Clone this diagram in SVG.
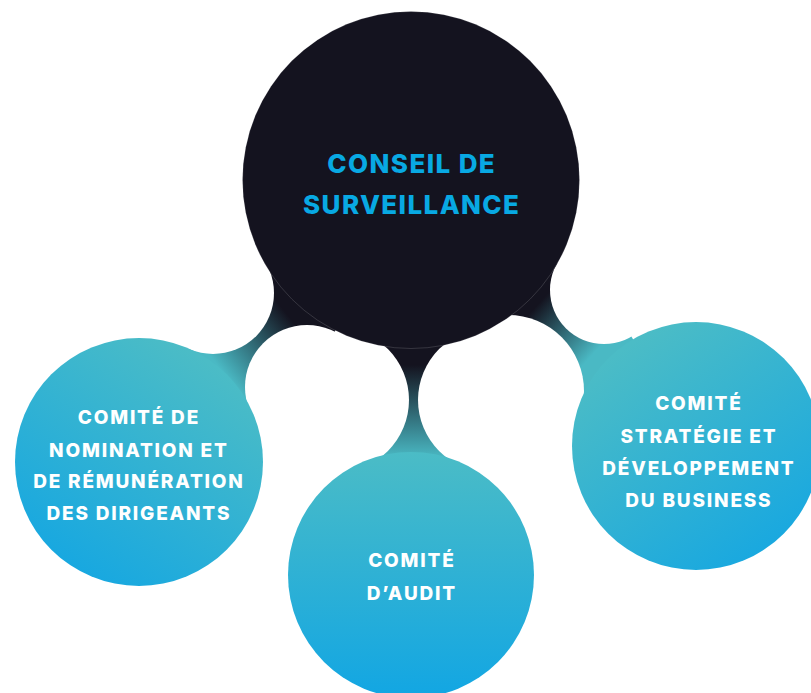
<svg xmlns="http://www.w3.org/2000/svg" width="811" height="693" viewBox="0 0 811 693">
<style>
.lbl{font-family:Inter,"Liberation Sans",sans-serif;font-weight:800;fill:#ffffff;text-anchor:middle}
.main{font-family:Inter,"Liberation Sans",sans-serif;font-weight:800;fill:#08a9e3;text-anchor:middle;font-size:26px;letter-spacing:1.4px}
.sub{font-size:19px;letter-spacing:1.8px}
</style>
<defs>
<linearGradient id="gL" x1="0.75" y1="0.08" x2="0.2" y2="0.95"><stop offset="0" stop-color="#4bbcc6"/><stop offset="1" stop-color="#16a7e1"/></linearGradient>
<linearGradient id="gR" x1="0.25" y1="0.08" x2="0.85" y2="0.95"><stop offset="0" stop-color="#4bbcc6"/><stop offset="1" stop-color="#16a7e1"/></linearGradient>
<linearGradient id="gB" x1="0" y1="0" x2="0" y2="1"><stop offset="0" stop-color="#4bbcc6"/><stop offset="1" stop-color="#12a6e3"/></linearGradient>
<linearGradient id="nL" gradientUnits="userSpaceOnUse" x1="282" y1="308" x2="215" y2="362"><stop offset="0" stop-color="#14131f"/><stop offset="1" stop-color="#4ab9c4"/></linearGradient>
<linearGradient id="nB" gradientUnits="userSpaceOnUse" x1="0" y1="365" x2="0" y2="458"><stop offset="0" stop-color="#14131f"/><stop offset="1" stop-color="#4ab9c4"/></linearGradient>
<linearGradient id="nR" gradientUnits="userSpaceOnUse" x1="540" y1="302" x2="595" y2="352"><stop offset="0" stop-color="#14131f"/><stop offset="1" stop-color="#4ab9c4"/></linearGradient>
<mask id="mL" maskUnits="userSpaceOnUse" x="0" y="0" width="811" height="693"><rect width="811" height="693" fill="#fff"/><circle cx="213" cy="293" r="61" fill="#000"/><circle cx="307" cy="387" r="62" fill="#000"/></mask>
<mask id="mB" maskUnits="userSpaceOnUse" x="0" y="0" width="811" height="693"><rect width="811" height="693" fill="#fff"/><circle cx="337" cy="400" r="72" fill="#000"/><circle cx="490" cy="400" r="72" fill="#000"/></mask>
<mask id="mR" maskUnits="userSpaceOnUse" x="0" y="0" width="811" height="693"><rect width="811" height="693" fill="#fff"/><circle cx="604" cy="290" r="54" fill="#000"/><circle cx="508" cy="391" r="76" fill="#000"/></mask>
</defs>
<rect width="811" height="693" fill="#ffffff"/>
<g id="connectors">
<path d="M411 180 L213 293 L139 462 L307 387 Z" fill="url(#nL)" mask="url(#mL)"/>
<path d="M411 180 L337 400 L411 575 L490 400 Z" fill="url(#nB)" mask="url(#mB)"/>
<path d="M411 180 L604 290 L696 446 L508 391 Z" fill="url(#nR)" mask="url(#mR)"/>
</g>
<g id="node-conseil">
<circle cx="411" cy="180" r="168.5" fill="#14131f" stroke="#ffffff" stroke-opacity="0.25" stroke-width="0.6"/>
<text class="main" x="411.7" y="173">CONSEIL DE</text>
<text class="main" x="411.7" y="214">SURVEILLANCE</text>
</g>
<g id="node-nomination">
<circle cx="139" cy="462" r="124" fill="url(#gL)"/>
<text class="lbl sub" x="138.9" y="424">COMITÉ DE</text>
<text class="lbl sub" x="138.9" y="457">NOMINATION ET</text>
<text class="lbl sub" x="138.9" y="488">DE RÉMUNÉRATION</text>
<text class="lbl sub" x="138.9" y="520">DES DIRIGEANTS</text>
</g>
<g id="node-audit">
<circle cx="411" cy="575" r="123" fill="url(#gB)"/>
<text class="lbl sub" x="411.9" y="567">COMITÉ</text>
<text class="lbl sub" x="411.9" y="600">D’AUDIT</text>
</g>
<g id="node-strategie">
<circle cx="696" cy="446" r="124" fill="url(#gR)"/>
<text class="lbl sub" x="698.9" y="410">COMITÉ</text>
<text class="lbl sub" x="698.9" y="443">STRATÉGIE ET</text>
<text class="lbl sub" x="698.9" y="475">DÉVELOPPEMENT</text>
<text class="lbl sub" x="698.9" y="507">DU BUSINESS</text>
</g>
</svg>
